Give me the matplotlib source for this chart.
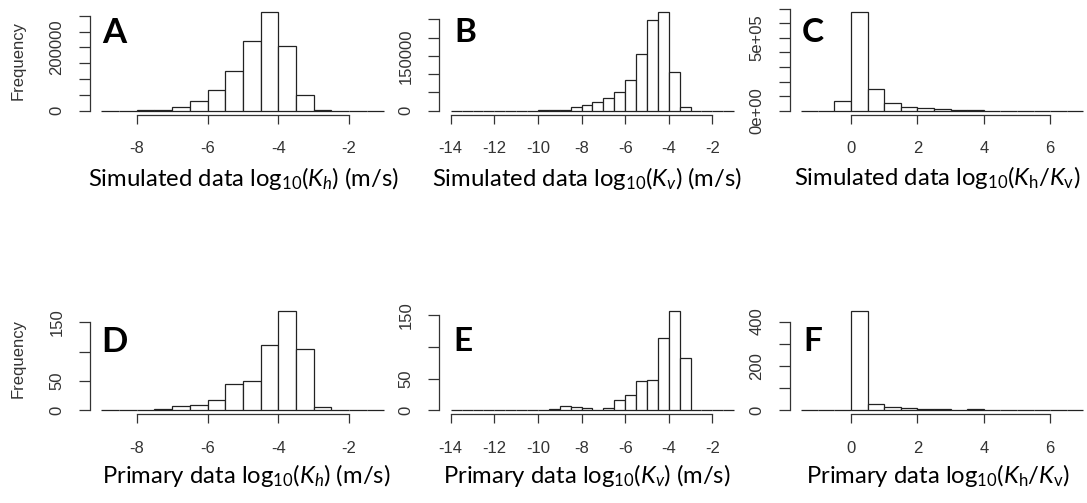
import numpy as np
import matplotlib
matplotlib.use("Agg")
import matplotlib.pyplot as plt

plt.rcParams['mathtext.fontset'] = 'custom'
plt.rcParams['mathtext.rm'] = 'Lato'
plt.rcParams['mathtext.it'] = 'Lato:italic'
plt.rcParams['mathtext.bf'] = 'Lato:bold'

# histogram counts, bin width 0.5, first bin starts at *_start
a_start = -9
a_counts = [0, 0, 1500, 3500, 10500, 29500, 64000, 125000, 221000, 312000,
            203000, 48000, 1500, 0, 0, 0]
b_start = -14
b_counts = [0, 0, 0, 0, 0, 0, 0, 0, 500, 1000, 2500, 9000, 16400, 23700,
            34600, 51000, 83000, 156000, 247000, 270000, 105000, 11000,
            0, 0, 0, 0]
c_start = -1.5
c_counts = [0, 0, 66000, 678000, 146000, 52500, 27400, 16000, 14000, 7000,
            6000, 0, 0, 0, 0, 0, 0]
d_start = -9
d_counts = [0, 1, 1, 3, 7, 8.5, 18, 44, 50, 111, 169, 105, 5, 0, 0, 0]
e_start = -14
e_counts = [0, 0, 0, 1, 1, 0, 1, 1, 1, 2.6, 7, 5, 3, 1, 3, 16, 25, 46, 48,
            115, 157, 82, 1, 0, 0, 0]
f_start = -1.5
f_counts = [0, 0, 0, 448, 30, 13.5, 9, 4, 4, 0, 4, 0, 0, 0, 0, 0, 0]
bin_w = 0.5

# axis ticks and which get a label
a_xt = [-8, -6, -4, -2]
b_xt = [-14, -12, -10, -8, -6, -4, -2]
c_xt = [0, 2, 4, 6]
a_yt = [0, 50000, 100000, 150000, 200000, 250000, 300000]
a_yl = ['0', '', '', '', '200000', '', '']
b_yt = [0, 50000, 100000, 150000, 200000, 250000]
b_yl = ['0', '', '', '150000', '', '']
c_yt = [0, 100000, 200000, 300000, 400000, 500000, 600000, 700000]
c_yl = ['0e+00', '', '', '', '', '5e+05', '', '']
d_yt = [0, 50, 100, 150]
d_yl = ['0', '50', '', '150']
f_yt = [0, 100, 200, 300, 400]
f_yl = ['0', '', '200', '', '400']

letters = ['A', 'B', 'C', 'D', 'E', 'F']
xlabels = [r'Simulated data log$_{10}$($K_h$) (m/s)',
           r'Simulated data log$_{10}$($K_v$) (m/s)',
           r'Simulated data log$_{10}$($K_\mathrm{h}$/$K_\mathrm{v}$)',
           r'Primary data log$_{10}$($K_h$) (m/s)',
           r'Primary data log$_{10}$($K_v$) (m/s)',
           r'Primary data log$_{10}$($K_\mathrm{h}$/$K_\mathrm{v}$)']

W, H = 1087, 503
fig = plt.figure(figsize=(W / 100, H / 100), dpi=100)

cols = [(90.0, 395.8), (439.4, 745.5), (789.9, 1094.7)]
rows = [(8.0, 114.6), (307.0, 414.3)]

panels = [
    (a_start, a_counts, a_xt, a_yt, a_yl),
    (b_start, b_counts, b_xt, b_yt, b_yl),
    (c_start, c_counts, c_xt, c_yt, c_yl),
    (d_start, d_counts, a_xt, d_yt, d_yl),
    (e_start, e_counts, b_xt, d_yt, d_yl),
    (f_start, f_counts, c_xt, f_yt, f_yl),
]

ink = '#333333'
for i, (start, counts, xt, yt, yl) in enumerate(panels):
    x0, x1 = cols[i % 3]
    y0, y1 = rows[i // 3]
    ax = fig.add_axes([x0 / W, 1 - y1 / H, (x1 - x0) / W, (y1 - y0) / H])
    edges = start + bin_w * np.arange(len(counts))
    ax.bar(edges, counts, width=bin_w, align='edge', facecolor='white',
           edgecolor='#222222', linewidth=0.9)
    lo, hi = edges[0], edges[-1] + bin_w
    ax.set_xlim(lo - 0.04 * (hi - lo), hi + 0.04 * (hi - lo))
    top = max(counts)
    ax.set_ylim(-0.04 * top, 1.04 * top)
    ax.set_facecolor('none')
    for s in ['top', 'right']:
        ax.spines[s].set_visible(False)
    for s in ['left', 'bottom']:
        ax.spines[s].set_color(ink)
        ax.spines[s].set_linewidth(0.9)
    ax.spines['bottom'].set_bounds(xt[0], xt[-1])
    ax.spines['left'].set_bounds(yt[0], yt[-1])
    ax.set_xticks(xt, [str(t) for t in xt])
    ax.set_yticks(yt, yl)
    ax.tick_params(axis='x', length=6.7, width=0.9, color=ink, pad=12.5,
                   labelsize=12, labelcolor=ink)
    ax.tick_params(axis='y', length=7.9, width=0.9, color=ink, pad=10.5,
                   labelsize=12, labelcolor=ink, labelrotation=90)
    for lbl in ax.get_xticklabels() + ax.get_yticklabels():
        lbl.set_fontfamily('Liberation Sans')
    for lbl in ax.get_yticklabels():
        lbl.set_va('center')

# panel letters: (left px, baseline px, size)
let_pos = [(102, 43.3, 25), (454.3, 42.5, 24), (801.7, 42.5, 24),
           (101.7, 351.7, 25), (453.3, 351, 24), (803.3, 351, 24)]
for (lx, ly, sz), t in zip(let_pos, letters):
    fig.text(lx / W, 1 - ly / H, t, fontsize=sz, fontweight='bold',
             family='Lato', ha='left', va='baseline', color='black')

# x labels: (left px, right px, baseline px); one font size fitted to widths
lab_pos = [(88, 403, 186), (432, 743, 186), (794, 1082, 185),
           (102, 393, 483), (443, 732, 483), (806, 1067, 483)]
labs = []
for (lx, rx, ly), t in zip(lab_pos, xlabels):
    labs.append(fig.text(lx / W, 1 - ly / H, t, fontsize=15, family='Lato',
                         ha='left', va='baseline', color='black'))
fig.canvas.draw()
r = fig.canvas.get_renderer()
fits = [15 * (rx - lx) / tx.get_window_extent(r).width
        for (lx, rx, ly), tx in zip(lab_pos, labs)]
size = float(np.median(fits))
for tx in labs:
    tx.set_fontsize(size)

for yc in [60, 359]:
    fig.text(18 / W, 1 - yc / H, 'Frequency', rotation=90, fontsize=12,
             family='Liberation Sans', ha='center', va='center', color=ink)

fig.savefig('out.png', dpi=100, facecolor='white')
